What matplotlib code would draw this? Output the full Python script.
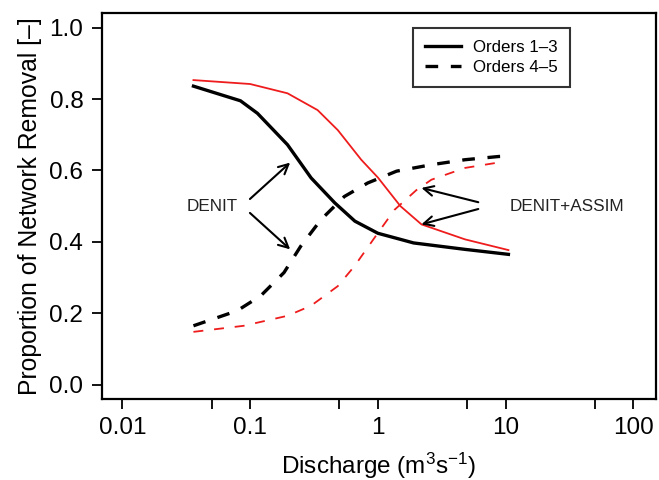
import matplotlib
matplotlib.use('Agg')
import matplotlib.pyplot as plt

plt.rcParams['font.family'] = ['Liberation Sans', 'DejaVu Sans']
plt.rcParams['mathtext.default'] = 'regular'

# Orders 1-3, DENIT (black solid)
q_o13_denit = [0.036, 0.084, 0.114, 0.196, 0.30, 0.46, 0.66, 1.0, 1.5, 1.9, 4.8, 10.5]
r_o13_denit = [0.836, 0.795, 0.760, 0.672, 0.579, 0.509, 0.458, 0.424, 0.407, 0.397, 0.379, 0.365]
# Orders 1-3, DENIT+ASSIM (red solid)
q_o13_assim = [0.036, 0.10, 0.196, 0.337, 0.485, 0.74, 1.0, 1.5, 2.19, 4.8, 10.5]
r_o13_assim = [0.853, 0.842, 0.816, 0.769, 0.713, 0.630, 0.580, 0.500, 0.449, 0.407, 0.377]
# Orders 4-5, DENIT (black dashed)
q_o45_denit = [0.036, 0.079, 0.121, 0.184, 0.249, 0.358, 0.546, 0.833, 1.4, 2.62, 4.8, 8.8, 10.5]
r_o45_denit = [0.165, 0.207, 0.249, 0.314, 0.388, 0.462, 0.527, 0.565, 0.598, 0.616, 0.630, 0.639, 0.640]
# Orders 4-5, DENIT+ASSIM (red dashed)
q_o45_assim = [0.036, 0.089, 0.196, 0.299, 0.485, 0.655, 1.0, 1.35, 2.0, 2.62, 4.8, 9.8]
r_o45_assim = [0.148, 0.165, 0.193, 0.221, 0.276, 0.332, 0.425, 0.49, 0.545, 0.574, 0.607, 0.625]

xticks = [0.01, 0.1, 1, 10, 100]
xtick_labels = ['0.01', '0.1', '1', '10', '100']
xminor = [0.05, 0.5, 5, 50]
yticks = [0.0, 0.2, 0.4, 0.6, 0.8, 1.0]

fig = plt.figure(figsize=(6.59, 4.8), dpi=100)
W, H = 659, 480
ax = fig.add_axes([101.7 / W, 1 - 399 / H, (656 - 101.7) / W, (399 - 13.3) / H])

ax.plot(q_o13_denit, r_o13_denit, color='black', lw=2.4, label='Orders 1\u20133')
ax.plot(q_o45_denit, r_o45_denit, color='black', lw=2.4, dashes=(3.8, 3.8), label='Orders 4\u20135')
ax.plot(q_o13_assim, r_o13_assim, color='#ee1c1c', lw=1.3)
ax.plot(q_o45_assim, r_o45_assim, color='#ee1c1c', lw=1.3, dashes=(5.5, 6.0))

ax.set_xscale('log')
ax.set_xlim(0.00689, 150)
ax.set_ylim(-0.04, 1.04)
ax.set_xticks(xticks)
ax.set_xticklabels(xtick_labels)
ax.set_xticks(xminor, minor=True)
ax.set_yticks(yticks)
ax.set_yticklabels(['%.1f' % v for v in yticks])
ax.tick_params(which='both', direction='out', length=7.2, width=1.3, labelsize=17.5, color='black')
ax.tick_params(axis='x', which='both', pad=5.5)
ax.tick_params(axis='y', pad=6)
for s in ax.spines.values():
    s.set_linewidth(1.6)

ax.set_xlabel('Discharge (m$^{3}$s$^{-1}$)', fontsize=17.5, va='center')
ax.xaxis.set_label_coords(0.5, (399 - 466) / (399 - 13.3))
ax.set_ylabel('Proportion of Network Removal [\u2013]', fontsize=17.8, va='center')
ax.yaxis.set_label_coords((30 - 101.7) / (656 - 101.7), 0.5)

arrow = dict(arrowstyle='->,head_length=0.7,head_width=0.35', color='black', lw=1.5, shrinkA=0, shrinkB=0)
ax.text(0.0505, 0.50, 'DENIT', fontsize=12.3, ha='center', va='center', color='#222222')
ax.annotate('', xy=(0.2056, 0.622), xytext=(0.0996, 0.520), arrowprops=arrow)
ax.annotate('', xy=(0.2056, 0.379), xytext=(0.0996, 0.481), arrowprops=arrow)
ax.text(30.0, 0.50, 'DENIT+ASSIM', fontsize=12.3, ha='center', va='center', color='#222222')
ax.annotate('', xy=(2.19, 0.551), xytext=(6.1, 0.511), arrowprops=arrow)
ax.annotate('', xy=(2.19, 0.449), xytext=(6.1, 0.492), arrowprops=arrow)

leg = ax.legend(loc='upper right', bbox_to_anchor=(570 / W, 1 - 27.7 / H), bbox_transform=fig.transFigure,
                fontsize=12.2, frameon=True, fancybox=False, borderaxespad=0, handlelength=2.12,
                handletextpad=0.76, borderpad=0.7, labelspacing=0.32)
leg.get_frame().set_edgecolor('black')
leg.get_frame().set_linewidth(1.5)

fig.savefig('out.png', dpi=100)
